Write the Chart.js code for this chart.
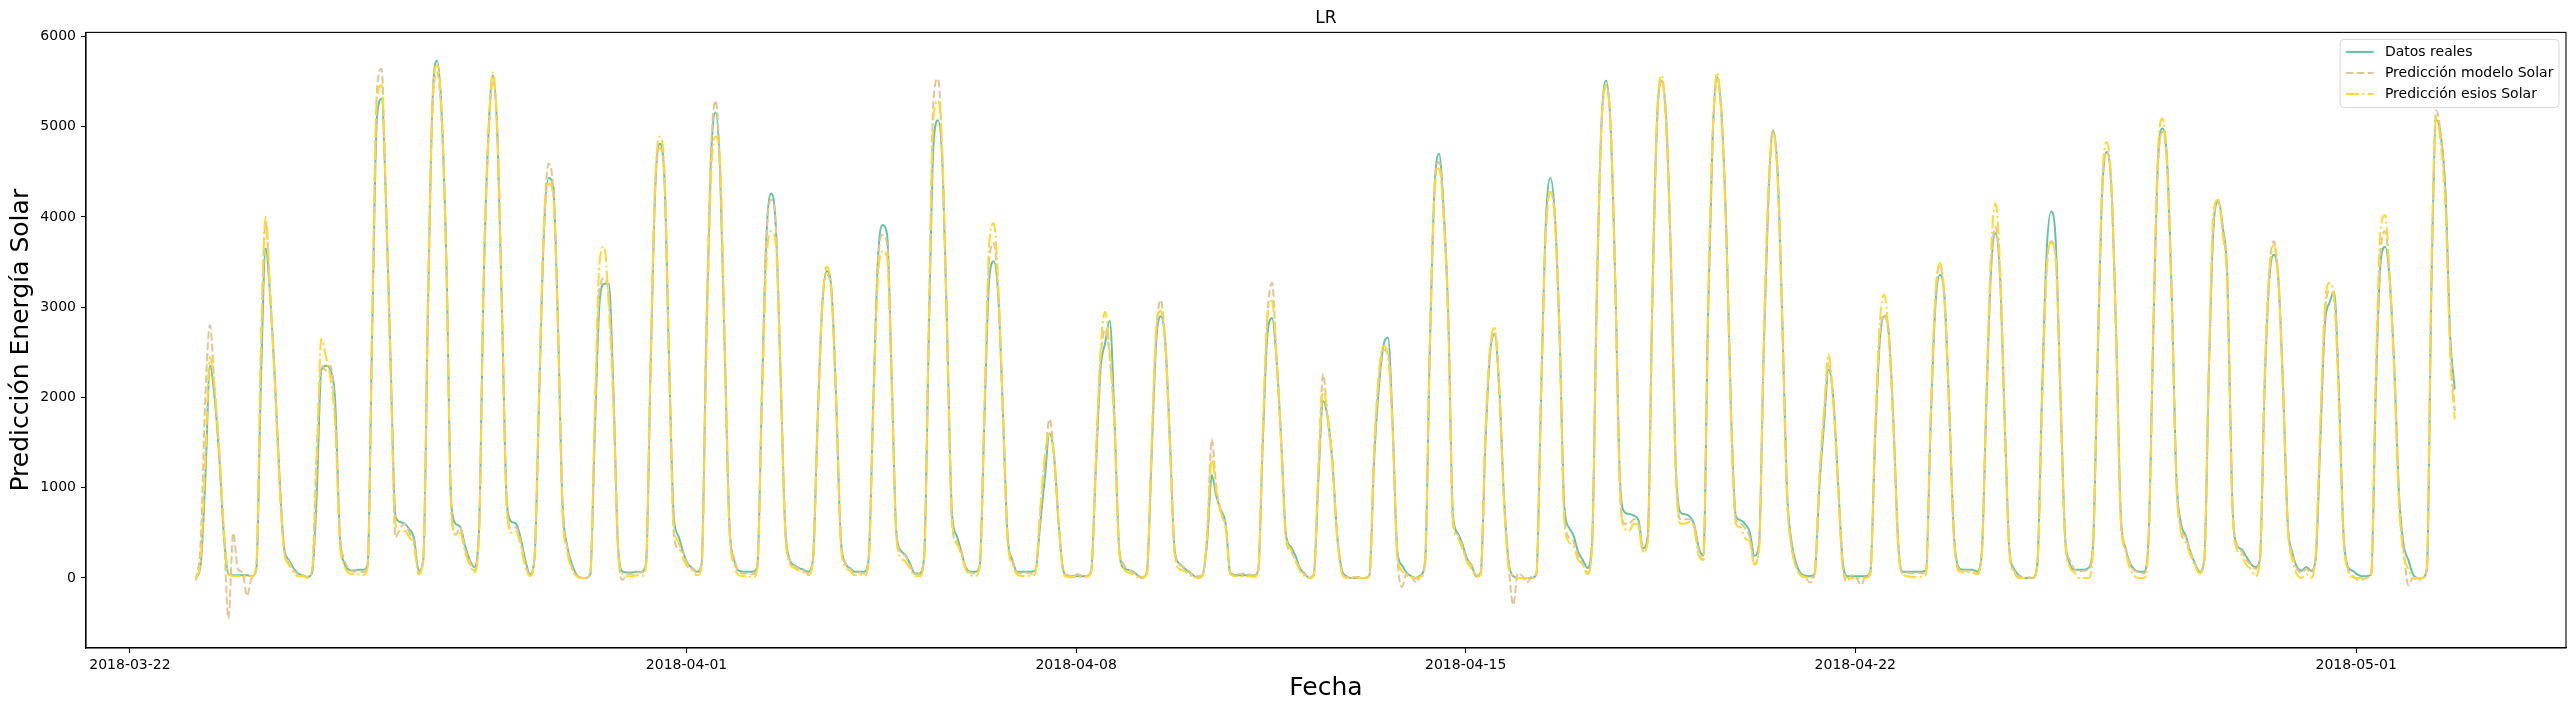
<!DOCTYPE html>
<html>
<head>
<meta charset="utf-8">
<script src="https://cdn.jsdelivr.net/npm/chart.js@4.4.1/dist/chart.umd.min.js"></script>
<style>
  html, body { margin: 0; padding: 0; background: #fff; }
  #wrap { width: 2575px; height: 711px; }
</style>
</head>
<body>
<div id="wrap"><canvas id="solarChart" width="2575" height="711"></canvas></div>
<script>
const firstDay = "2018-03-23";
const sampleHours = [2.5, 4.5, 6.5, 8.5, 10.5, 12.5, 14.5, 16.5, 18.5, 20.5, 22.5, 24.5];

const xTickLabels = ["2018-03-22", "2018-04-01", "2018-04-08", "2018-04-15", "2018-04-22", "2018-05-01"];
const yTicks = [0, 1000, 2000, 3000, 4000, 5000, 6000];

// one row per day, 2018-03-23 .. 2018-05-02
const realByDay = [
    [null, 0, 150, 1100, 2350, 2000, 1340, 470, 40, 30, 30, 30],
    [30, 20, 100, 2200, 3650, 3100, 2200, 1120, 330, 200, 110, 50],
    [30, 10, 50, 900, 2300, 2350, 2300, 1950, 465, 160, 90, 80],
    [90, 90, 150, 2800, 5100, 5310, 4100, 2300, 680, 620, 600, 540],
    [440, 80, 200, 3000, 5300, 5730, 5100, 3450, 850, 600, 560, 360],
    [200, 120, 520, 3260, 4870, 5570, 4870, 2860, 845, 623, 600, 440],
    [200, 40, 240, 2050, 3820, 4430, 4340, 2860, 845, 360, 160, 40],
    [0, 0, 40, 1650, 3050, 3260, 3260, 2050, 330, 70, 60, 60],
    [70, 70, 150, 2300, 4300, 4810, 4410, 2400, 684, 465, 290, 160],
    [110, 70, 150, 2600, 4600, 5160, 4500, 2500, 600, 200, 80, 70],
    [70, 70, 120, 2000, 3800, 4260, 3900, 2300, 600, 200, 140, 110],
    [90, 70, 200, 1700, 3000, 3400, 3200, 2000, 450, 160, 110, 70],
    [70, 70, 200, 1900, 3500, 3910, 3800, 2200, 500, 300, 250, 150],
    [50, 50, 250, 2700, 4800, 5070, 4500, 2600, 700, 470, 290, 110],
    [70, 70, 150, 1800, 3300, 3510, 3100, 1800, 450, 200, 70, 70],
    [70, 70, 80, 600, 1100, 1600, 1350, 600, 80, 20, 20, 20],
    [20, 20, 80, 1200, 2300, 2600, 2850, 1800, 350, 110, 90, 70],
    [30, 0, 60, 1300, 2600, 2900, 2600, 1500, 300, 160, 110, 70],
    [30, 0, 30, 400, 1140, 900, 750, 600, 50, 30, 30, 30],
    [30, 30, 80, 1500, 2700, 2880, 2400, 1500, 480, 350, 250, 110],
    [50, 0, 30, 1100, 1960, 1770, 1300, 500, 100, 20, 0, 0],
    [0, 0, 30, 1300, 2100, 2570, 2660, 1700, 300, 140, 60, 20],
    [0, 30, 180, 2490, 4280, 4700, 4080, 2890, 700, 500, 380, 220],
    [140, 20, 60, 1500, 2490, 2700, 2090, 900, 180, 20, 0, 0],
    [0, 0, 40, 2000, 3900, 4430, 4000, 2700, 800, 560, 470, 290],
    [200, 110, 400, 3100, 5000, 5510, 5000, 3300, 1100, 730, 710, 690],
    [640, 330, 460, 3100, 5070, 5510, 5070, 3530, 1300, 730, 706, 684],
    [596, 333, 250, 2900, 4900, 5550, 5070, 3750, 1780, 684, 640, 596],
    [509, 245, 377, 2500, 4190, 4960, 4500, 2900, 1000, 400, 160, 50],
    [26, 20, 50, 1000, 1700, 2310, 2000, 1100, 200, 20, 20, 20],
    [20, 20, 70, 1500, 2600, 2900, 2700, 1700, 400, 70, 70, 70],
    [70, 70, 80, 1700, 3000, 3360, 3100, 1900, 500, 120, 90, 90],
    [90, 70, 250, 1900, 3400, 3820, 3300, 1700, 300, 100, 30, 0],
    [0, 0, 150, 2000, 3600, 4060, 3700, 2000, 450, 160, 90, 90],
    [90, 110, 350, 2400, 4300, 4720, 4300, 2700, 700, 330, 160, 90],
    [70, 70, 450, 2700, 4600, 4980, 4600, 3100, 1100, 600, 470, 290],
    [160, 70, 200, 2300, 3900, 4170, 3880, 3290, 910, 360, 320, 240],
    [160, 120, 200, 2100, 3290, 3580, 3290, 2100, 600, 280, 120, 80],
    [120, 80, 200, 1500, 2810, 3050, 3170, 2100, 510, 120, 80, 40],
    [20, 20, 40, 2100, 3490, 3670, 3290, 2300, 910, 360, 200, 40],
    [0, 0, 100, 3290, 5070, 4900, 4280, 2700, 2090, null, null, null],
];

const modelByDay = [
    [null, -30, 400, 2000, 2800, 2100, 1400, 500, -450, 500, 100, 60],
    [-200, 0, 150, 2500, 3950, 3100, 2150, 1050, 300, 180, 90, 40],
    [30, 10, 80, 1400, 2350, 2300, 2350, 1750, 500, 200, 100, 70],
    [80, 60, 150, 2900, 5400, 5640, 4000, 2200, 450, 550, 600, 500],
    [400, 50, 200, 2900, 5200, 5600, 5000, 3400, 800, 480, 560, 320],
    [180, 80, 500, 3200, 4800, 5510, 4900, 2900, 800, 550, 560, 400],
    [160, 20, 250, 2100, 3900, 4590, 4300, 2900, 800, 350, 120, 30],
    [10, 0, 60, 1800, 3200, 3320, 3100, 2000, 300, -20, 50, 40],
    [60, 60, 150, 2400, 4350, 4760, 4400, 2350, 500, 320, 280, 150],
    [100, 60, 150, 2700, 4700, 5290, 4500, 2500, 550, 220, 70, 50],
    [50, 40, 120, 2100, 3800, 4190, 3900, 2300, 550, 200, 130, 100],
    [80, 50, 200, 1750, 3050, 3360, 3150, 1950, 450, 170, 100, 50],
    [60, 50, 200, 1900, 3450, 3800, 3700, 2200, 480, 280, 240, 130],
    [40, 40, 250, 2900, 5300, 5530, 4500, 2500, 600, 380, 300, 100],
    [60, 50, 150, 1900, 3500, 3710, 3100, 1750, 400, 200, 60, 50],
    [60, 50, 80, 700, 1250, 1760, 1350, 600, 80, 30, 20, 40],
    [30, 20, 80, 1300, 2400, 2750, 2450, 1700, 380, 150, 100, 60],
    [30, 10, 60, 1400, 2700, 3080, 2550, 1450, 300, 150, 120, 80],
    [30, 20, 30, 500, 1540, 1000, 720, 550, 60, 40, 40, 50],
    [40, 30, 80, 1600, 2900, 3270, 2400, 1450, 420, 300, 200, 100],
    [40, 10, 40, 1200, 2260, 1750, 1250, 480, 80, 10, 10, 10],
    [10, 0, 30, 1400, 2200, 2530, 2500, 1650, 250, -100, 50, 20],
    [-50, 20, 200, 2600, 4300, 4610, 4000, 2800, 600, 480, 350, 200],
    [150, 30, 60, 1600, 2500, 2720, 2050, 850, 150, -300, 50, 20],
    [-50, 20, 50, 2100, 3800, 4280, 3950, 2650, 700, 450, 400, 250],
    [150, 60, 350, 3000, 4950, 5440, 5000, 3250, 1000, 600, 600, 650],
    [600, 300, 400, 3000, 5000, 5510, 5000, 3500, 1250, 650, 650, 650],
    [580, 300, 200, 2900, 4850, 5530, 5000, 3700, 1700, 650, 600, 550],
    [450, 150, 350, 2500, 4200, 4960, 4450, 2850, 950, 350, 120, 30],
    [0, -50, 60, 1100, 1800, 2390, 1950, 1050, 150, -40, 30, 0],
    [-80, 20, 60, 1550, 2650, 2920, 2650, 1650, 350, 50, 60, 50],
    [60, 50, 70, 1750, 3100, 3470, 3050, 1850, 480, 100, 80, 80],
    [80, 50, 250, 1950, 3450, 3890, 3300, 1650, 280, 80, 20, 0],
    [10, 0, 150, 1900, 3400, 3730, 3500, 2000, 420, 200, 100, 70],
    [80, 90, 350, 2450, 4300, 4720, 4300, 2650, 650, 350, 150, 80],
    [60, 50, 450, 2700, 4550, 4940, 4550, 3050, 1050, 550, 450, 280],
    [150, 60, 200, 2350, 3950, 4170, 3850, 3250, 900, 380, 300, 200],
    [150, 100, 220, 2200, 3400, 3730, 3300, 2050, 580, 260, 100, 60],
    [100, 60, 220, 1600, 2900, 3180, 3100, 2050, 500, 100, 20, -20],
    [-20, 0, 60, 2200, 3600, 3840, 3300, 2250, 850, 300, -80, 0],
    [-30, 0, 120, 3400, 5180, 4900, 4200, 2650, 1850, null, null, null],
];

const esiosByDay = [
    [null, 0, 200, 1300, 2450, 2100, 1400, 550, 40, 20, 20, 20],
    [20, 20, 120, 2600, 4000, 3150, 2150, 1050, 280, 150, 60, 20],
    [20, 0, 80, 1200, 2650, 2450, 2200, 1700, 400, 130, 50, 40],
    [40, 30, 120, 2900, 5300, 5460, 4100, 2200, 600, 520, 520, 450],
    [350, 40, 250, 3100, 5300, 5680, 5100, 3400, 780, 480, 500, 280],
    [150, 60, 450, 3300, 4900, 5600, 4900, 2850, 780, 500, 520, 350],
    [120, 20, 250, 2150, 3900, 4370, 4250, 2800, 750, 300, 100, 20],
    [0, 0, 60, 1900, 3500, 3670, 3000, 1900, 300, 40, 20, 20],
    [30, 20, 120, 2400, 4400, 4890, 4500, 2400, 600, 400, 220, 120],
    [80, 30, 120, 2400, 4400, 4890, 4600, 2600, 550, 150, 30, 20],
    [20, 0, 100, 1900, 3500, 3840, 3700, 2300, 550, 160, 110, 80],
    [60, 30, 180, 1650, 3000, 3450, 3150, 2000, 400, 120, 80, 30],
    [40, 20, 150, 1800, 3300, 3620, 3550, 2100, 450, 220, 180, 100],
    [20, 20, 220, 2800, 5100, 5290, 4600, 2600, 650, 400, 250, 90],
    [30, 20, 130, 1900, 3700, 3930, 3200, 1800, 400, 150, 40, 20],
    [30, 20, 60, 750, 1350, 1600, 1350, 600, 50, 10, 10, 10],
    [10, 10, 60, 1300, 2500, 2950, 2500, 1700, 300, 100, 60, 40],
    [10, 0, 40, 1400, 2750, 2960, 2600, 1450, 250, 100, 80, 40],
    [10, 0, 20, 450, 1340, 950, 720, 580, 40, 20, 20, 20],
    [20, 10, 60, 1600, 2900, 3070, 2400, 1450, 450, 320, 200, 80],
    [20, 0, 30, 1200, 2090, 1800, 1300, 480, 60, 0, 0, 0],
    [0, 0, 20, 1400, 2250, 2570, 2450, 1650, 250, 80, 30, 10],
    [0, 10, 150, 2500, 4200, 4540, 4000, 2850, 650, 450, 330, 180],
    [100, 10, 40, 1600, 2550, 2770, 2100, 850, 120, 30, 0, 0],
    [0, 0, 40, 2000, 3800, 4280, 3950, 2650, 650, 400, 350, 200],
    [150, 40, 350, 3100, 5000, 5460, 5000, 3250, 1000, 550, 520, 600],
    [580, 280, 400, 3100, 5100, 5570, 5000, 3500, 1250, 600, 600, 620],
    [550, 250, 200, 3000, 4950, 5600, 5000, 3700, 1700, 600, 560, 440],
    [400, 150, 300, 2600, 4300, 4920, 4450, 2850, 950, 350, 120, 30],
    [10, 0, 40, 1100, 1850, 2480, 1950, 1050, 150, 0, 0, 0],
    [0, 0, 40, 1600, 2800, 3140, 2650, 1650, 350, 40, 20, 10],
    [10, 10, 40, 1800, 3100, 3490, 3100, 1850, 480, 80, 60, 60],
    [60, 40, 250, 2000, 3600, 4150, 3400, 1700, 280, 60, 0, 0],
    [0, 0, 120, 1900, 3400, 3710, 3500, 2000, 400, 120, 60, 0],
    [0, 0, 300, 2500, 4400, 4830, 4300, 2650, 650, 300, 100, 20],
    [0, 0, 400, 2800, 4700, 5090, 4550, 3000, 1050, 500, 400, 250],
    [130, 50, 180, 2400, 4060, 4190, 3800, 3200, 850, 320, 260, 150],
    [100, 20, 200, 2150, 3350, 3690, 3250, 2050, 550, 200, 40, 0],
    [40, 0, 250, 1700, 3000, 3270, 3100, 2000, 450, 80, 10, 0],
    [0, 0, 60, 2300, 3850, 4020, 3300, 2200, 800, 250, 100, 0],
    [0, 0, 120, 3500, 5110, 4800, 4100, 2500, 1760, null, null, null],
];

// x axis is in days counted from 2018-03-22 00:00
const origin = Date.UTC(2018, 2, 22);
function dayOffset(iso) {
    return (Date.parse(iso + "T00:00:00Z") - origin) / 86400000;
}
const xTickDays = xTickLabels.map(dayOffset);

function toPoints(rows) {
    const start = dayOffset(firstDay);
    const pts = [];
    rows.forEach((row, d) => {
        row.forEach((v, k) => {
            if (v !== null) pts.push({ x: start + d + sampleHours[k] / 24, y: v });
        });
    });
    return pts;
}

Chart.defaults.font.family = "'DejaVu Sans', sans-serif";
Chart.defaults.color = "#000";

// full box round the plot, like matplotlib spines
const frame = {
    id: "frame",
    afterDatasetsDraw(chart) {
        const { ctx, chartArea: a } = chart;
        ctx.save();
        ctx.strokeStyle = "#000";
        ctx.lineWidth = 1.1;
        ctx.strokeRect(a.left, a.top, a.right - a.left, a.bottom - a.top);
        ctx.restore();
    },
};

// legend drawn inside the plot, top right
const insideLegend = {
    id: "insideLegend",
    afterDraw(chart) {
        const { ctx, chartArea: a } = chart;
        const fs = 14;
        const pad = 0.4 * fs, handle = 2 * fs, gap = 0.8 * fs, rowH = 21;
        const sets = chart.data.datasets;
        ctx.save();
        ctx.font = fs + "px 'DejaVu Sans'";
        const textW = Math.max(...sets.map(s => ctx.measureText(s.label).width));
        const w = pad + handle + gap + textW + pad;
        const h = sets.length * rowH + 5;
        const x = a.right - 7 - w;
        const y = a.top + 7;
        ctx.beginPath();
        ctx.roundRect(x, y, w, h, 4);
        ctx.fillStyle = "rgba(255,255,255,0.8)";
        ctx.fill();
        ctx.strokeStyle = "rgba(204,204,204,0.8)";
        ctx.lineWidth = 1;
        ctx.stroke();
        sets.forEach((s, i) => {
            const cy = y + 12.5 + i * rowH;
            ctx.beginPath();
            ctx.setLineDash(s.borderDash || []);
            ctx.strokeStyle = s.borderColor;
            ctx.lineWidth = s.borderWidth;
            ctx.moveTo(x + pad, cy);
            ctx.lineTo(x + pad + handle, cy);
            ctx.stroke();
            ctx.setLineDash([]);
            ctx.fillStyle = "#000";
            ctx.textBaseline = "middle";
            ctx.fillText(s.label, x + pad + handle + gap, cy);
        });
        ctx.restore();
    },
};

const ctx = document.getElementById("solarChart").getContext("2d");

const solarChart = new Chart(ctx, {
    type: "line",
    data: {
        datasets: [
            {
                label: "Datos reales",
                data: toPoints(realByDay),
                borderColor: "#66c2a5",
                borderWidth: 2,
                order: 3,
            },
            {
                label: "Predicción modelo Solar",
                data: toPoints(modelByDay),
                borderColor: "#e5c494",
                borderWidth: 2,
                borderDash: [7.7, 3.3],
                order: 2,
            },
            {
                label: "Predicción esios Solar",
                data: toPoints(esiosByDay),
                borderColor: "#ffd92f",
                borderWidth: 2,
                borderDash: [13.3, 3.3, 2.1, 3.3],
                order: 1,
            },
        ],
    },
    options: {
        responsive: false,
        animation: false,
        devicePixelRatio: 1,
        events: [],
        elements: {
            point: { radius: 0 },
            line: { cubicInterpolationMode: "monotone", fill: false },
        },
        layout: {
            padding: { top: 0, right: 9, bottom: 0, left: 0 },
        },
        scales: {
            x: {
                type: "linear",
                min: -0.79,
                max: 43.77,
                afterBuildTicks: s => { s.ticks = xTickDays.map(v => ({ value: v })); },
                afterFit: s => { s.height = 63; },
                grid: { drawOnChartArea: false, tickLength: 5, tickColor: "#000", tickWidth: 1.1 },
                border: { color: "#000", width: 1.1 },
                ticks: {
                    autoSkip: false,
                    maxRotation: 0,
                    padding: 4,
                    font: { size: 14 },
                    color: "#000",
                    callback: (v, i) => xTickLabels[i],
                },
                title: {
                    display: true,
                    text: "Fecha",
                    font: { size: 25 },
                    color: "#000",
                    padding: { top: 0, bottom: 8 },
                },
            },
            y: {
                min: -776,
                max: 6044,
                afterBuildTicks: s => { s.ticks = yTicks.map(v => ({ value: v })); },
                afterFit: s => { s.width = 86; },
                grid: { drawOnChartArea: false, tickLength: 5, tickColor: "#000", tickWidth: 1.1 },
                border: { color: "#000", width: 1.1 },
                ticks: {
                    padding: 5,
                    font: { size: 14 },
                    color: "#000",
                    callback: v => String(v),
                },
                title: {
                    display: true,
                    text: "Predicción Energía Solar",
                    font: { size: 25 },
                    color: "#000",
                    padding: { top: 6, bottom: 0 },
                },
            },
        },
        plugins: {
            legend: { display: false },
            tooltip: { enabled: false },
            title: {
                display: true,
                text: "LR",
                fullSize: false,
                font: { size: 17, weight: "normal" },
                color: "#000",
                padding: { top: 8, bottom: 4 },
            },
        },
    },
    plugins: [frame, insideLegend],
});
</script>
</body>
</html>
